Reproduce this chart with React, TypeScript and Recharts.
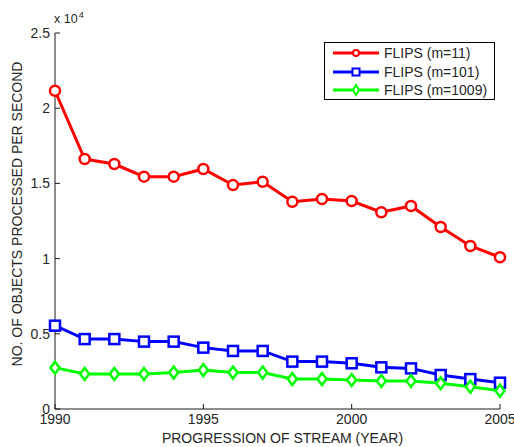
import React from 'react';
import { LineChart, Line, XAxis, YAxis } from 'recharts';

const years = [1990, 1991, 1992, 1993, 1994, 1995, 1996, 1997, 1998, 1999, 2000, 2001, 2002, 2003, 2004, 2005];
const flips11 = [21160, 16620, 16290, 15450, 15450, 15960, 14890, 15110, 13780, 13960, 13830, 13080, 13500, 12100, 10840, 10090];
const flips101 = [5540, 4650, 4650, 4480, 4480, 4080, 3860, 3860, 3150, 3150, 3040, 2770, 2700, 2260, 1990, 1750];
const flips1009 = [2750, 2330, 2330, 2330, 2420, 2590, 2420, 2420, 1990, 1990, 1930, 1860, 1860, 1710, 1480, 1220];
const xTicks = [1990, 1995, 2000, 2005];
const yTicks = [0, 5000, 10000, 15000, 20000, 25000];
const seriesNames = ['FLIPS (m=11)', 'FLIPS (m=101)', 'FLIPS (m=1009)'];

const data = years.map((y, i) => ({ year: y, a: flips11[i], b: flips101[i], c: flips1009[i] }));

const FONT = 'Liberation Sans, Arial, Helvetica, sans-serif';
const TXT = '#262626';
const AX = '#1a1a1a';
const FS = 14;

const fmtY = (v: number) => String(v / 10000);

const BottomTick = (p: any) => (
  <g>
    <line x1={p.x} y1={p.y} x2={p.x} y2={p.y - 5} stroke={AX} strokeWidth={1} />
    <text x={p.x} y={p.y + 15} textAnchor="middle" fontSize={FS} fontFamily={FONT} fill={TXT}>{p.payload.value}</text>
  </g>
);
const TopTick = (p: any) => (
  <line x1={p.x} y1={p.y} x2={p.x} y2={p.y + 5} stroke={AX} strokeWidth={1} />
);
const LeftTick = (p: any) => (
  <g>
    <line x1={p.x} y1={p.y} x2={p.x + 5} y2={p.y} stroke={AX} strokeWidth={1} />
    <text x={p.x - 5} y={p.y + 5} textAnchor="end" fontSize={FS} fontFamily={FONT} fill={TXT}>{fmtY(p.payload.value)}</text>
  </g>
);
const RightTick = (p: any) => (
  <line x1={p.x} y1={p.y} x2={p.x - 5} y2={p.y} stroke={AX} strokeWidth={1} />
);

const CircleDot = (p: any) => (
  <circle key={`c${p.index}`} cx={p.cx} cy={p.cy} r={5} fill="#fff" stroke="#ff0000" strokeWidth={2.5} />
);
const SquareDot = (p: any) => (
  <rect key={`s${p.index}`} x={p.cx - 5} y={p.cy - 5} width={10} height={10} fill="#fff" stroke="#0000ff" strokeWidth={2.5} />
);
const DiamondDot = (p: any) => (
  <path key={`d${p.index}`} d={`M${p.cx},${p.cy - 6} L${p.cx + 4.5},${p.cy} L${p.cx},${p.cy + 6} L${p.cx - 4.5},${p.cy} Z`} fill="#fff" stroke="#00ff00" strokeWidth={2.5} />
);

const XLabel = (p: any) => {
  const vb = p.viewBox || {};
  return (
    <text x={vb.x + vb.width / 2 + 5} y={443} textAnchor="middle" fontSize={FS} fontFamily={FONT} fill={TXT}>
      PROGRESSION OF STREAM (YEAR)
    </text>
  );
};
const YLabel = (p: any) => {
  const vb = p.viewBox || {};
  const cy = vb.y + vb.height / 2 - 7;
  return (
    <text x={22} y={cy} transform={`rotate(-90, 22, ${cy})`} textAnchor="middle" fontSize={FS} fontFamily={FONT} fill={TXT}>
      NO. OF OBJECTS PROCESSED PER SECOND
    </text>
  );
};

const legendItems = [
  { name: seriesNames[0], color: '#ff0000', marker: 'circle' },
  { name: seriesNames[1], color: '#0000ff', marker: 'square' },
  { name: seriesNames[2], color: '#00ff00', marker: 'diamond' },
];

const LegendMarker = ({ color, marker }: { color: string; marker: string }) => (
  <svg width={48} height={18} style={{ display: 'block' }}>
    <line x1={1} y1={9} x2={47} y2={9} stroke={color} strokeWidth={3} />
    {marker === 'circle' && <circle cx={24} cy={9} r={3} fill="#fff" stroke={color} strokeWidth={2} />}
    {marker === 'square' && <rect x={20.5} y={5.5} width={7} height={7} fill="#fff" stroke={color} strokeWidth={2} />}
    {marker === 'diamond' && <path d="M24,4 L27,9 L24,14 L21,9 Z" fill="#fff" stroke={color} strokeWidth={2} />}
  </svg>
);

export default function App() {
  return (
    <div style={{ position: 'absolute', left: 0, top: 0, width: 514, height: 447, background: '#fff' }}>
      <LineChart width={514} height={447} data={data} margin={{ top: 33, right: 14, left: 0, bottom: 0 }}>
        <XAxis xAxisId="bottom" dataKey="year" type="number" domain={[1990, 2005]} ticks={xTicks}
          height={38} tickSize={0} tickMargin={0} tickLine={false} axisLine={{ stroke: AX }} tick={BottomTick}
          interval={0} label={<XLabel />} />
        <XAxis xAxisId="top" orientation="top" dataKey="year" type="number" domain={[1990, 2005]} ticks={xTicks}
          height={0} tickSize={0} tickMargin={0} tickLine={false} axisLine={{ stroke: AX }} tick={TopTick} interval={0} />
        <YAxis yAxisId="left" type="number" domain={[0, 25000]} ticks={yTicks} width={55}
          tickSize={0} tickMargin={0} tickLine={false} axisLine={{ stroke: AX }} tick={LeftTick} interval={0}
          label={<YLabel />} />
        <YAxis yAxisId="right" orientation="right" type="number" domain={[0, 25000]} ticks={yTicks} width={0}
          tickSize={0} tickMargin={0} tickLine={false} axisLine={{ stroke: AX }} tick={RightTick} interval={0} />
        <Line xAxisId="bottom" yAxisId="left" dataKey="a" stroke="#ff0000" strokeWidth={3} dot={CircleDot} isAnimationActive={false} />
        <Line xAxisId="bottom" yAxisId="left" dataKey="b" stroke="#0000ff" strokeWidth={3} dot={SquareDot} isAnimationActive={false} />
        <Line xAxisId="bottom" yAxisId="left" dataKey="c" stroke="#00ff00" strokeWidth={3} dot={DiamondDot} isAnimationActive={false} />
      </LineChart>
      <div style={{ position: 'absolute', left: 54, top: 13, fontFamily: FONT, fontSize: 12.5, color: TXT, whiteSpace: 'nowrap', lineHeight: '13px' }}>
        x 10<span style={{ fontSize: 9, position: 'relative', top: -5, marginLeft: 1 }}>4</span>
      </div>
      <div style={{ position: 'absolute', left: 324, top: 42, width: 169, height: 56, border: '1px solid #000', background: '#fff', fontFamily: FONT, fontSize: FS, color: TXT, boxSizing: 'content-box' }}>
        {legendItems.map((it, i) => (
          <div key={i} style={{ position: 'absolute', left: 7, top: 1 + i * 18.5, height: 18, display: 'flex', alignItems: 'center' }}>
            <LegendMarker color={it.color} marker={it.marker} />
            <span style={{ marginLeft: 4, whiteSpace: 'nowrap' }}>{it.name}</span>
          </div>
        ))}
      </div>
    </div>
  );
}
